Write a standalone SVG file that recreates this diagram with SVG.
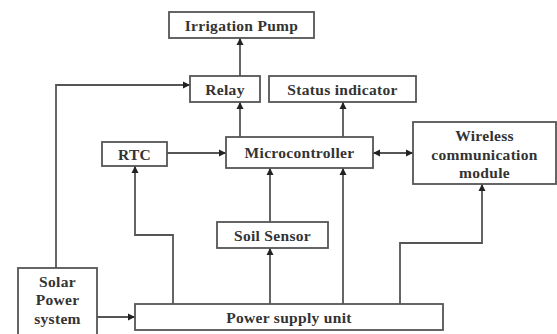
<svg xmlns="http://www.w3.org/2000/svg" width="557" height="334" viewBox="0 0 557 334">
<style>
.box{fill:#fff;stroke:#555;stroke-width:1.8}
.t{font-family:"Liberation Serif",serif;font-size:15.5px;font-weight:bold;fill:#333;text-anchor:middle;letter-spacing:0.3px}
.c{fill:none;stroke:#555;stroke-width:1.8}
</style>
<defs>
<marker id="a" viewBox="0 0 10 10" refX="10" refY="5" markerWidth="4" markerHeight="4" orient="auto-start-reverse" markerUnits="strokeWidth">
<path d="M0,0L10,5L0,10z" fill="#222"/>
</marker>
</defs>
<rect width="557" height="334" fill="#fff"/>
<g id="connectors">
<path class="c" d="M240,76V38" marker-end="url(#a)"/>
<path class="c" d="M240,137V102" marker-end="url(#a)"/>
<path class="c" d="M343,137V102" marker-end="url(#a)"/>
<path class="c" d="M167,153H226" marker-end="url(#a)"/>
<path class="c" d="M373,153H413" marker-start="url(#a)" marker-end="url(#a)"/>
<path class="c" d="M56,268V85H190" marker-end="url(#a)"/>
<path class="c" d="M97,317H135" marker-end="url(#a)"/>
<path class="c" d="M173,304V235H135V166" marker-end="url(#a)"/>
<path class="c" d="M270,304V248" marker-end="url(#a)"/>
<path class="c" d="M270,222V168" marker-end="url(#a)"/>
<path class="c" d="M343,304V168" marker-end="url(#a)"/>
<path class="c" d="M400,304V243H482V184" marker-end="url(#a)"/>
</g>
<g id="irrigation-pump"><rect class="box" x="169" y="12" width="145" height="26"/><text class="t" x="241.5" y="30.5">Irrigation Pump</text></g>
<g id="relay"><rect class="box" x="190" y="76" width="70" height="26"/><text class="t" x="225" y="94.5">Relay</text></g>
<g id="status-indicator"><rect class="box" x="269" y="76" width="147" height="26"/><text class="t" x="342.5" y="94.5">Status indicator</text></g>
<g id="rtc"><rect class="box" x="102" y="142" width="65" height="24"/><text class="t" x="134.5" y="159.5">RTC</text></g>
<g id="microcontroller"><rect class="box" x="226" y="137" width="147" height="31"/><text class="t" x="299.5" y="158">Microcontroller</text></g>
<g id="wireless"><rect class="box" x="413" y="122" width="143" height="62"/><text class="t" x="484.5" y="141">Wireless</text><text class="t" x="484.5" y="159.5">communication</text><text class="t" x="484.5" y="178">module</text></g>
<g id="soil-sensor"><rect class="box" x="217" y="222" width="111" height="26"/><text class="t" x="272.5" y="240.5">Soil Sensor</text></g>
<g id="solar"><rect class="box" x="18" y="268" width="79" height="70"/><text class="t" x="57.5" y="286.5">Solar</text><text class="t" x="57.5" y="305">Power</text><text class="t" x="57.5" y="323.5">system</text></g>
<g id="power-supply"><rect class="box" x="135" y="304" width="308" height="26"/><text class="t" x="289" y="322.5">Power supply unit</text></g>
</svg>
